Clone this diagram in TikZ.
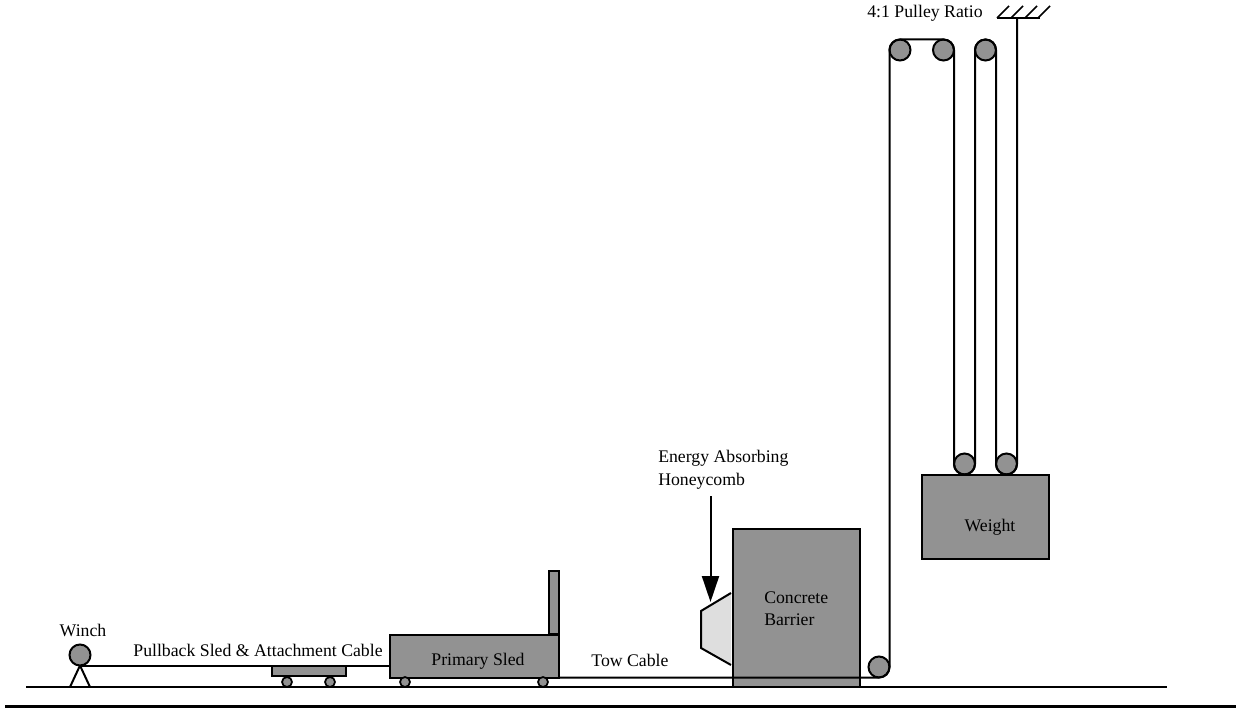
\documentclass[tikz,border=0pt]{standalone}
\usepackage{fontspec}
\usetikzlibrary{arrows.meta}
\setmainfont{Liberation Serif}
\definecolor{sledgray}{HTML}{929292}
\definecolor{combgray}{HTML}{DEDEDE}

\begin{document}
\begin{tikzpicture}[x=0.75pt,y=0.75pt,
    pulleystyle/.style={circle, draw, fill=sledgray, line width=1.5pt, inner sep=0, outer sep=0, minimum size=21*0.75pt},
    wheelstyle/.style={circle, draw, fill=sledgray, line width=1.3pt, inner sep=0, outer sep=0, minimum size=10*0.75pt},
    boxstyle/.style={rectangle, draw, fill=sledgray, line width=1.5pt, inner sep=0, outer sep=0},
    textstyle/.style={inner sep=0, font=\fontsize{13.3}{17.25}\selectfont, align=center},
    cable/.style={line width=1.5pt}]
  \useasboundingbox (0,0) rectangle (1236,708);

  % floor lines
  \coordinate (groundL) at (26,21);
  \coordinate (groundR) at (1167,21);
  \coordinate (baseL) at (5,1.5);
  \coordinate (baseR) at (1236,1.5);
  \draw [line width=1pt] (groundL)--(groundR);
  \draw [line width=2.2pt] (baseL)--(baseR);

  % winch
  \coordinate (legL) at (70,21);
  \coordinate (legR) at (90,21);
  \node [pulleystyle] (winch) at (80,53) {};
  \draw [cable] (winch.south)--(legL) (winch.south)--(legR);
  \node [textstyle] (winchtext) at (83,78) {Winch};

  % pullback sled
  \node [boxstyle, minimum width=74*0.75pt, minimum height=10*0.75pt] (pullback) at (309,37) {};
  \foreach \x [count=\i] in {287,330}
    \node [wheelstyle] (pullwheel\i) at (\x,26) {};
  \node [textstyle] (pullbacktext) at (258,58) {Pullback Sled \& Attachment Cable};

  % primary sled
  \node [boxstyle, minimum width=169*0.75pt, minimum height=42.5*0.75pt] (primary) at (474.5,51.75) {};
  \node [boxstyle, minimum width=10*0.75pt, minimum height=63*0.75pt] (plate) at (554,105.5) {};
  \foreach \x [count=\i] in {405,543}
    \node [wheelstyle] (primwheel\i) at (\x,26) {};
  \node [textstyle] (primarytext) at (478,47) {Primary Sled};
  \draw [cable] (winch.south) |- (pullback.north west);
  \draw [cable] (pullback.north east)--(primary.west |- pullback.north);

  % barrier and honeycomb
  \node [boxstyle, minimum width=127*0.75pt, minimum height=158*0.75pt] (barrier) at (796.5,100) {};
  \node [textstyle, align=left, anchor=west] (barriertext) at (764,99) {Concrete\\[-1pt]Barrier};
  \draw [fill=combgray, line width=1.5pt] (731,115)--(701,97)--(701,60)--(731,43);
  \coordinate (arrowstart) at (710.5,212);
  \coordinate (arrowtip) at (710.5,106);
  \draw [-{Triangle[length=19.5pt,width=12.75pt]}, line width=1.5pt] (arrowstart)--(arrowtip);
  \node [textstyle, align=left, anchor=west] (combtext) at (658,238) {Energy Absorbing\\Honeycomb};

  % weight
  \node [boxstyle, minimum width=127*0.75pt, minimum height=84*0.75pt] (weight) at (985.5,191) {};
  \node [textstyle] (weighttext) at (990,181) {Weight};

  % pulleys
  \node [pulleystyle] (foot) at (879,41) {};
  \foreach \x [count=\i] in {900,943.5,985.5}
    \node [pulleystyle] (top\i) at (\x,658) {};
  \foreach \x [count=\i] in {964.5,1006.5}
    \node [pulleystyle] (low\i) at (\x,244) {};

  % ceiling
  \coordinate (ceilL) at (997,690);
  \coordinate (ceilR) at (1040,690);
  \coordinate (ceilA) at (1018,690);
  \draw [cable] (ceilL)--(ceilR);
  \foreach \x in {997,1011,1025,1038}
    \draw [line width=1.2pt] (\x,690)--++(12,12);
  \node [textstyle] (ratiotext) at (925,695) {4:1 Pulley Ratio};

  % tow cable and rope
  \node [textstyle] (towtext) at (630,48) {Tow Cable};
  \draw [cable] (primary.south east)--(foot.south) arc (-90:0:10.5)
    --(top1.west) arc (180:90:10.5)--(top2.north) arc (90:0:10.5)
    --(low1.west) arc (180:360:10.5)--(top3.west) arc (180:0:10.5)
    --(low2.west) arc (180:360:10.5)--(low2.east |- ceilA);
\end{tikzpicture}
\end{document}
